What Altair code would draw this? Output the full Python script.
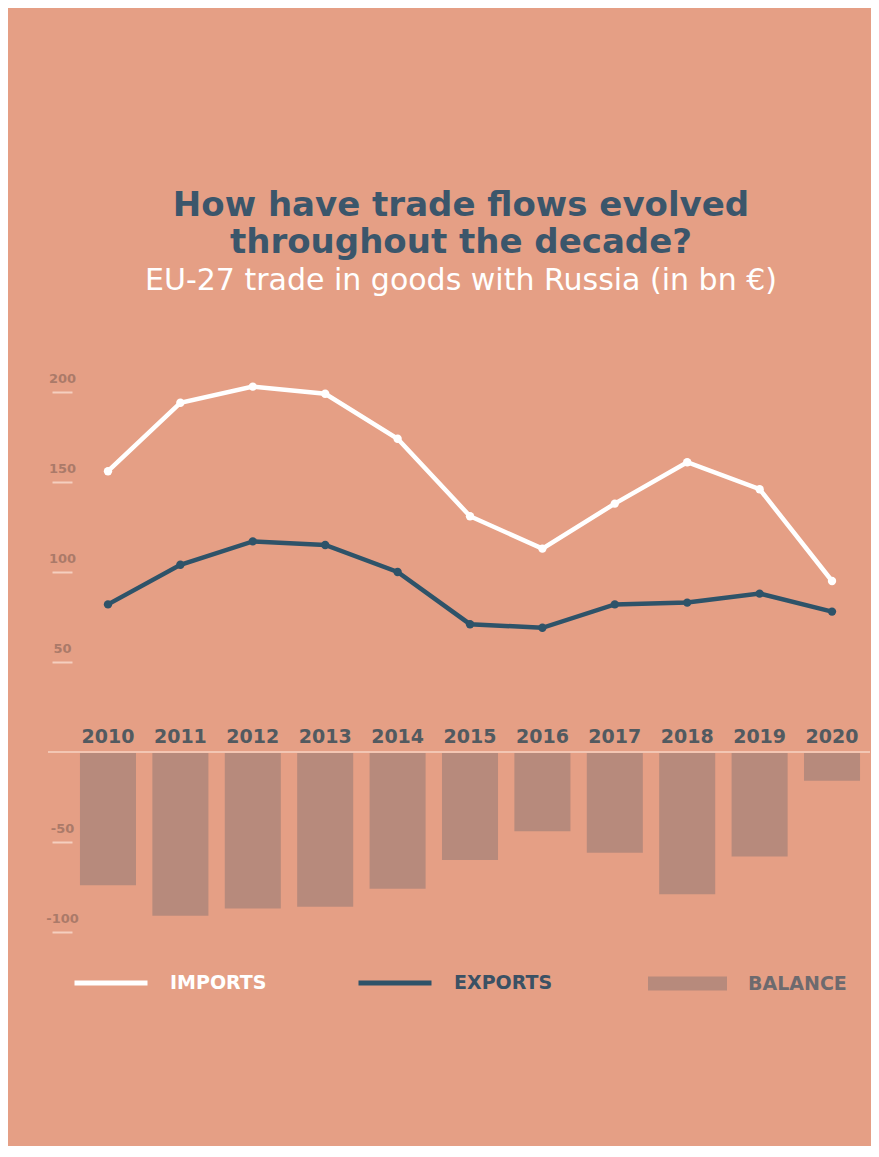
import altair as alt
import pandas as pd

years = [str(y) for y in range(2010, 2021)]
imports = [156, 194, 203, 199, 174, 131, 113, 138, 161, 146, 95]
exports = [82, 104, 117, 115, 100, 71, 69, 82, 83, 88, 78]
balance = [-74, -91, -87, -86, -76, -60, -44, -56, -79, -58, -16]
y_ticks = [-100, -50, 50, 100, 150, 200]
series_names = ["IMPORTS", "EXPORTS"]
balance_name = "BALANCE"

lines_df = pd.DataFrame(
    {
        "year": years * 2,
        "value": imports + exports,
        "series": [series_names[0]] * len(years) + [series_names[1]] * len(years),
    }
)
bal_df = pd.DataFrame(
    {"year": years, "value": balance, "kind": [balance_name] * len(years), "zero": [0] * len(years)}
)

FONT = "DejaVu Sans"
yscale = alt.Scale(domain=[-120, 220], nice=False, zero=False)
xscale = alt.Scale(paddingInner=0.226, paddingOuter=0.11)
yaxis = alt.Axis(
    values=y_ticks,
    domain=False,
    grid=False,
    ticks=True,
    tickSize=20,
    tickWidth=2,
    tickColor="#f5cfbf",
    labelAlign="center",
    labelPadding=-10,
    labelBaseline="alphabetic",
    labelOffset=-10,
    labelFont=FONT,
    labelFontWeight="bold",
    labelFontSize=13,
    labelColor="#ab7a69",
    labelOverlap=False,
    labelExpr="datum.value < 0 ? '-' + abs(datum.value) : '' + datum.value",
    title=None,
)

bars = alt.Chart(bal_df).mark_bar(opacity=1).encode(
    x=alt.X("year:N", scale=xscale, axis=None),
    y=alt.Y("value:Q", scale=yscale, axis=yaxis, title=None),
    y2=alt.Y2("zero:Q"),
    fill=alt.Fill(
        "kind:N",
        scale=alt.Scale(domain=[balance_name], range=["#b78a7c"]),
        legend=alt.Legend(
            orient="none",
            legendX=576,
            legendY=588,
            title=None,
            symbolType="M-1,-0.18H1V0.18H-1Z",
            symbolSize=6241,
            symbolStrokeWidth=0,
            symbolOpacity=1,
            labelFont=FONT,
            labelFontWeight="bold",
            labelFontSize=19,
            labelColor="#6d6a6e",
            labelOffset=21,
            padding=0,
        ),
    ),
)

zero_rule = alt.Chart(bal_df.head(1)).mark_rule(color="#f3c6b3", strokeWidth=2).encode(
    y=alt.Y("zero:Q", scale=yscale, axis=yaxis, title=None),
    x=alt.value(-24),
    x2=alt.value(798),
)

lines = alt.Chart(lines_df).mark_line(
    strokeWidth=4.5, point=alt.OverlayMarkDef(size=70, filled=True, opacity=1)
).encode(
    x=alt.X("year:N", scale=xscale, axis=None),
    y=alt.Y("value:Q", scale=yscale, axis=yaxis, title=None),
    color=alt.Color(
        "series:N",
        scale=alt.Scale(domain=series_names, range=["#ffffff", "#2e5369"]),
        sort=series_names,
        legend=alt.Legend(
            orient="none",
            legendX=0,
            legendY=588,
            direction="horizontal",
            title=None,
            symbolType="stroke",
            symbolSize=5329,
            symbolStrokeWidth=5,
            labelFont=FONT,
            labelFontWeight="bold",
            labelFontSize=19,
            labelColor={"expr": "datum.label == 'IMPORTS' ? '#ffffff' : '#3b5164'"},
            labelOffset=20,
            columnPadding=81,
            padding=0,
        ),
    ),
)

year_text = alt.Chart(bal_df).mark_text(
    dy=-9, fontSize=19, fontWeight="bold", color="#525a60", font=FONT, baseline="alphabetic"
).encode(
    x=alt.X("year:N", scale=xscale, axis=None),
    y=alt.Y("zero:Q", scale=yscale, axis=yaxis, title=None),
    text="year:N",
)

chart = (
    alt.layer(bars, zero_rule, lines, year_text)
    .resolve_scale(color="independent", fill="independent")
    .properties(
        width=796,
        height=612,
        padding={"left": 64, "top": 348, "right": 3, "bottom": 178},
        autosize=alt.AutoSizeParams(type="none"),
        title=alt.TitleParams(
            text=["How have trade flows evolved", "throughout the decade?"],
            subtitle="EU-27 trade in goods with Russia (in bn €)",
            font=FONT,
            fontSize=34,
            fontWeight="bold",
            color="#3b566b",
            lineHeight=37,
            subtitleFont=FONT,
            subtitleFontSize=30,
            subtitleColor="#ffffff",
            subtitlePadding=6,
            anchor="middle",
            frame="group",
            offset=60,
            dx=-9,
        ),
    )
    .configure(background="#e59f85")
    .configure_view(strokeWidth=0)
)

chart.save("out.html", embed_options={"renderer": "svg", "actions": False})
